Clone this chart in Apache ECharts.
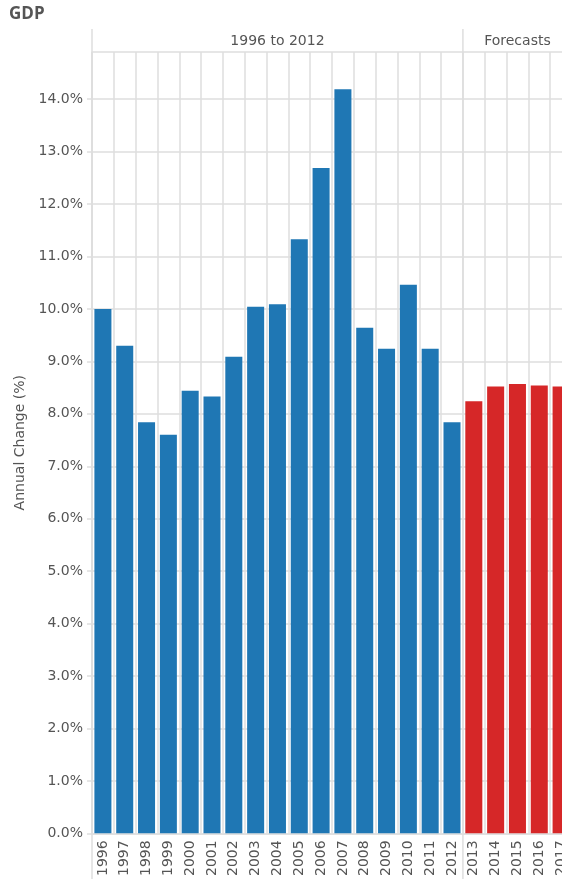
<!doctype html>
<html>
<head>
<meta charset="UTF-8">
<title>GDP</title>
<script src="https://cdn.jsdelivr.net/npm/echarts@6/dist/echarts.min.js"></script>
<style>
  html, body { margin: 0; padding: 0; background: #fff; overflow: hidden; }
  /* the chart runs a little past the right edge of the window, as in the original */
  #main { width: 572px; height: 879px; }
</style>
</head>
<body>
<div id="main"></div>
<script>
// data
var years = ['1996', '1997', '1998', '1999', '2000', '2001', '2002', '2003', '2004', '2005', '2006',
             '2007', '2008', '2009', '2010', '2011', '2012', '2013', '2014', '2015', '2016', '2017'];
var gdpChange = [10.0, 9.30, 7.84, 7.60, 8.44, 8.33, 9.09, 10.04, 10.09, 11.33, 12.69,
                 14.19, 9.64, 9.24, 10.46, 9.24, 7.84, 8.24, 8.52, 8.57, 8.54, 8.52];
var firstForecast = '2013';
var headerLabels = ['1996 to 2012', 'Forecasts'];

var blue = '#1f77b4', red = '#d62728';
var gridColor = '#dedede', textColor = '#555';
var font = 'DejaVu Sans';

var chart = echarts.init(document.getElementById('main'));
var forecastIdx = years.indexOf(firstForecast);

chart.setOption({
    animation: false,
    title: {
        text: 'GDP', left: 9, top: 6, padding: 0,
        textStyle: { fontFamily: 'Open Sans', fontSize: 17, fontWeight: 'bold', color: textColor }
    },
    grid: { left: 92, right: 0, top: 52, bottom: 41, containLabel: false },
    xAxis: {
        type: 'category',
        data: years,
        axisLine: { lineStyle: { color: gridColor, width: 1.5 } },
        axisTick: { length: 5, lineStyle: { color: gridColor, width: 1.5 } },
        splitLine: { show: true, lineStyle: { color: gridColor, width: 1.5 } },
        axisLabel: { rotate: 90, margin: 7, fontFamily: font, fontSize: 14, color: textColor, interval: 0 }
    },
    yAxis: {
        type: 'value', min: 0, max: 14.9, interval: 1,
        name: 'Annual Change (%)', nameLocation: 'middle', nameGap: 62,
        nameTextStyle: { fontFamily: font, fontSize: 14, color: textColor },
        axisLine: { show: true, lineStyle: { color: gridColor, width: 1.5 } },
        axisTick: { show: true, length: 5, lineStyle: { color: gridColor, width: 1.5 } },
        splitLine: { lineStyle: { color: gridColor, width: 1.5 } },
        axisLabel: {
            margin: 9, fontFamily: font, fontSize: 14, color: textColor, showMaxLabel: false,
            formatter: function (v) { return v.toFixed(1) + '%'; }
        }
    },
    series: [{
        type: 'bar',
        data: gdpChange,
        barCategoryGap: '22%',
        itemStyle: {
            color: function (p) { return p.dataIndex >= forecastIdx ? red : blue; }
        }
    }]
});

// header band: section labels and dividers
var c0 = chart.convertToPixel({ xAxisIndex: 0 }, years[0]);
var step = chart.convertToPixel({ xAxisIndex: 0 }, years[1]) - c0;
var left = c0 - step / 2;
var divider = chart.convertToPixel({ xAxisIndex: 0 }, firstForecast) - step / 2;
var right = chart.convertToPixel({ xAxisIndex: 0 }, years[years.length - 1]) + step / 2;
var headTop = 29, headMid = 41, bottom = 879;

chart.setOption({
    graphic: [
        { type: 'line', shape: { x1: left, y1: headTop, x2: left, y2: bottom }, style: { stroke: gridColor, lineWidth: 1.5 } },
        { type: 'line', shape: { x1: divider, y1: headTop, x2: divider, y2: bottom }, style: { stroke: gridColor, lineWidth: 1.5 } },
        { type: 'text', x: (left + divider) / 2, y: headMid,
          style: { text: headerLabels[0], font: '14px "' + font + '"', fill: textColor, align: 'center', verticalAlign: 'middle' } },
        { type: 'text', x: (divider + right) / 2, y: headMid,
          style: { text: headerLabels[1], font: '14px "' + font + '"', fill: textColor, align: 'center', verticalAlign: 'middle' } }
    ]
});
</script>
</body>
</html>
